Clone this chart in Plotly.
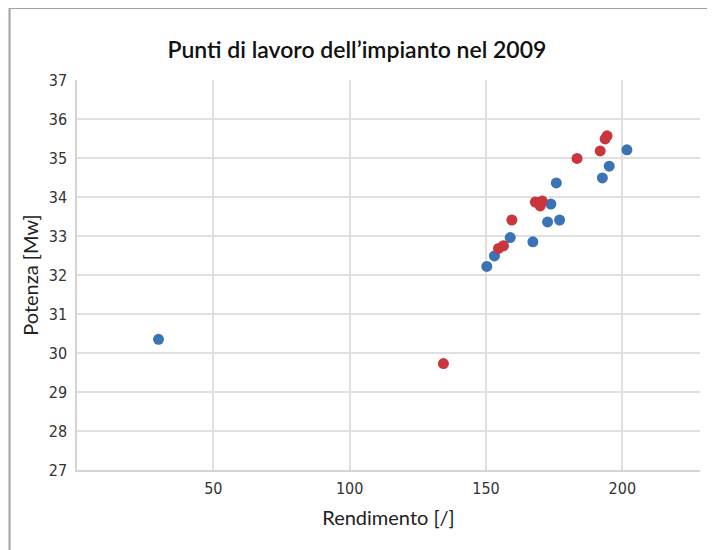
import plotly.graph_objects as go

title_text = "Punti di lavoro dell\u2019impianto nel 2009"
x_title = "Rendimento [/]"
y_title = "Potenza [Mw]"

blue_x = [201.7, 195.2, 192.7, 175.8, 173.8, 172.6, 177.0, 158.9, 167.2, 153.1, 150.3, 29.9]
blue_y = [35.21, 34.79, 34.49, 34.36, 33.82, 33.36, 33.41, 32.96, 32.85, 32.49, 32.22, 30.35]

red_x = [194.4, 193.7, 191.9, 183.4, 168.1, 169.9, 170.6, 159.5, 156.4, 154.6, 134.4]
red_y = [35.57, 35.49, 35.18, 34.99, 33.87, 33.77, 33.90, 33.41, 32.75, 32.68, 29.73]

x_ticks = [50, 100, 150, 200]
y_ticks = [27, 28, 29, 30, 31, 32, 33, 34, 35, 36, 37]

fig = go.Figure()
fig.add_trace(go.Scatter(x=blue_x, y=blue_y, mode="markers",
                         marker=dict(color="#3a74b6", size=11), showlegend=False))
fig.add_trace(go.Scatter(x=red_x, y=red_y, mode="markers",
                         marker=dict(color="#c9363e", size=11), showlegend=False))

tick_font = dict(family="Liberation Sans Narrow, DejaVu Sans Condensed, sans-serif", size=16, color="#333333")
title_font = dict(family="Lato, Open Sans, sans-serif", size=20, color="#222222")

fig.update_layout(
    width=715, height=550,
    margin=dict(l=69, r=23, t=72, b=88, autoexpand=False),
    paper_bgcolor="white", plot_bgcolor="white",
    title=dict(text=title_text, x=0.488, xanchor="center", y=0.9236, yanchor="middle",
               font=dict(family="Lato, Open Sans, sans-serif", size=23, color="#111111", weight=600)),
    xaxis=dict(range=[0, 228.5], tickvals=x_ticks, showgrid=True, gridcolor="#e0e0e0", gridwidth=1.5,
               zeroline=False, showline=True, linecolor="#d4d4d4", linewidth=1.5,
               ticks="", tickfont=tick_font, ticklabelstandoff=3, automargin=False,
               title=dict(text=x_title, font=title_font, standoff=14)),
    yaxis=dict(range=[27, 37], tickvals=y_ticks, showgrid=True, gridcolor="#e0e0e0", gridwidth=1.5,
               zeroline=False, showline=True, linecolor="#d4d4d4", linewidth=1.5,
               ticks="", tickfont=tick_font, ticklabelstandoff=5, automargin=False,
               title=dict(text=y_title, font=title_font, standoff=5)),
    shapes=[dict(type="rect", xref="paper", yref="paper",
                 x0=-0.1083, x1=1.0193, y0=-0.25, y1=1.1846,
                 line=dict(color="#a89f98", width=2), fillcolor="rgba(0,0,0,0)", layer="below")],
)

fig.write_html("out.html")
